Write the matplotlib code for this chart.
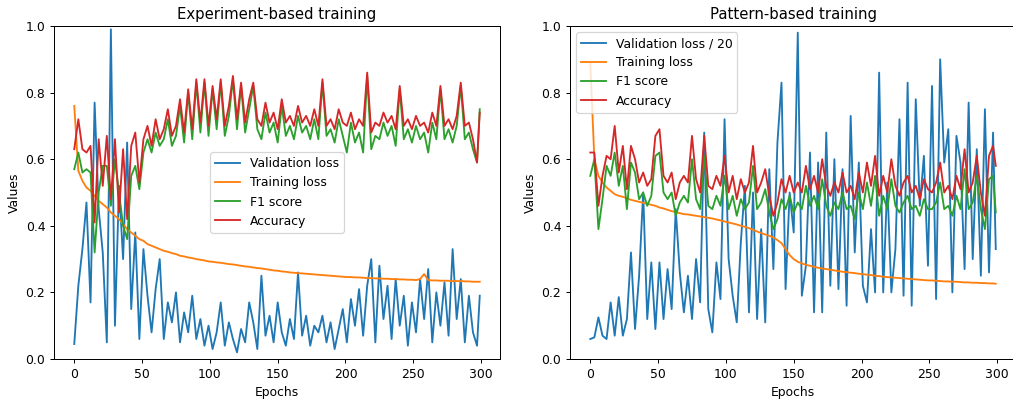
import matplotlib
matplotlib.use("Agg")
import matplotlib.pyplot as plt

# epochs sampled every 3, plus the last one
epochs = list(range(0, 298, 3)) + [299]

# ---- Experiment-based training
exp_val_loss = [0.045, 0.22, 0.33, 0.47, 0.17, 0.77, 0.45, 0.32, 0.05, 0.99,
                0.10, 0.52, 0.30, 0.65, 0.15, 0.38, 0.06, 0.33, 0.19, 0.08,
                0.21, 0.30, 0.06, 0.17, 0.11, 0.20, 0.05, 0.14, 0.08, 0.19,
                0.06, 0.12, 0.04, 0.10, 0.03, 0.08, 0.17, 0.04, 0.11, 0.06,
                0.02, 0.09, 0.05, 0.17, 0.11, 0.03, 0.25, 0.07, 0.13, 0.05,
                0.17, 0.08, 0.04, 0.12, 0.06, 0.26, 0.07, 0.13, 0.04, 0.10,
                0.08, 0.13, 0.05, 0.11, 0.03, 0.09, 0.15, 0.05, 0.18, 0.10,
                0.21, 0.07, 0.22, 0.30, 0.05, 0.28, 0.12, 0.22, 0.06, 0.24,
                0.10, 0.19, 0.04, 0.17, 0.08, 0.24, 0.12, 0.27, 0.05, 0.20,
                0.10, 0.23, 0.07, 0.33, 0.12, 0.24, 0.05, 0.19, 0.08, 0.04,
                0.19]
exp_train_loss = [0.76, 0.565, 0.535, 0.515, 0.505, 0.49, 0.475, 0.465, 0.455, 0.44,
                  0.43, 0.42, 0.405, 0.39, 0.38, 0.37, 0.36, 0.355, 0.345, 0.34,
                  0.335, 0.33, 0.325, 0.322, 0.318, 0.315, 0.31, 0.308, 0.305, 0.303,
                  0.30, 0.298, 0.296, 0.293, 0.292, 0.29, 0.289, 0.287, 0.285, 0.284,
                  0.282, 0.28, 0.278, 0.277, 0.275, 0.273, 0.272, 0.27, 0.268, 0.266,
                  0.265, 0.263, 0.262, 0.26, 0.259, 0.258, 0.257, 0.256, 0.255, 0.254,
                  0.253, 0.252, 0.251, 0.25, 0.249, 0.248, 0.247, 0.246, 0.246, 0.245,
                  0.245, 0.244, 0.243, 0.243, 0.242, 0.242, 0.241, 0.241, 0.24, 0.24,
                  0.239, 0.239, 0.238, 0.238, 0.237, 0.24, 0.255, 0.237, 0.236, 0.236,
                  0.235, 0.235, 0.235, 0.234, 0.234, 0.234, 0.233, 0.233, 0.232, 0.232,
                  0.232]
exp_f1 = [0.57, 0.62, 0.56, 0.57, 0.56, 0.32, 0.50, 0.58, 0.58, 0.46,
          0.60, 0.50, 0.40, 0.36, 0.55, 0.58, 0.51, 0.62, 0.66, 0.62,
          0.68, 0.64, 0.66, 0.72, 0.64, 0.67, 0.76, 0.65, 0.80, 0.66,
          0.83, 0.68, 0.83, 0.67, 0.81, 0.69, 0.83, 0.67, 0.73, 0.84,
          0.69, 0.82, 0.68, 0.75, 0.82, 0.69, 0.66, 0.74, 0.68, 0.71,
          0.65, 0.76, 0.67, 0.70, 0.66, 0.73, 0.68, 0.70, 0.66, 0.72,
          0.66, 0.83, 0.67, 0.69, 0.65, 0.72, 0.67, 0.62, 0.71, 0.65,
          0.68, 0.62, 0.85, 0.63, 0.67, 0.66, 0.71, 0.67, 0.70, 0.64,
          0.81, 0.66, 0.69, 0.65, 0.70, 0.66, 0.68, 0.62, 0.71, 0.66,
          0.81, 0.66, 0.69, 0.65, 0.70, 0.82, 0.66, 0.68, 0.63, 0.59,
          0.75]
exp_acc = [0.63, 0.72, 0.63, 0.62, 0.64, 0.41, 0.66, 0.52, 0.67, 0.48,
           0.66, 0.44, 0.63, 0.42, 0.64, 0.68, 0.53, 0.66, 0.70, 0.64,
           0.72, 0.66, 0.69, 0.75, 0.67, 0.70, 0.78, 0.68, 0.81, 0.69,
           0.84, 0.71, 0.84, 0.70, 0.82, 0.72, 0.84, 0.70, 0.76, 0.85,
           0.72, 0.83, 0.71, 0.78, 0.83, 0.72, 0.70, 0.77, 0.71, 0.74,
           0.69, 0.78, 0.71, 0.73, 0.70, 0.76, 0.71, 0.73, 0.70, 0.75,
           0.70, 0.84, 0.70, 0.72, 0.69, 0.75, 0.71, 0.70, 0.74, 0.69,
           0.72, 0.70, 0.86, 0.68, 0.71, 0.70, 0.74, 0.71, 0.73, 0.69,
           0.82, 0.70, 0.72, 0.69, 0.73, 0.70, 0.71, 0.68, 0.74, 0.70,
           0.82, 0.70, 0.72, 0.69, 0.73, 0.83, 0.70, 0.71, 0.66, 0.59,
           0.74]

# ---- Pattern-based training
pat_val_loss = [0.06, 0.065, 0.125, 0.07, 0.06, 0.17, 0.07, 0.186, 0.07, 0.12,
                0.32, 0.09, 0.25, 0.50, 0.12, 0.29, 0.09, 0.29, 0.12, 0.27,
                0.15, 0.45, 0.26, 0.14, 0.25, 0.12, 0.30, 0.17, 0.68, 0.15,
                0.08, 0.29, 0.18, 0.72, 0.30, 0.19, 0.11, 0.35, 0.52, 0.14,
                0.50, 0.12, 0.39, 0.11, 0.57, 0.27, 0.65, 0.83, 0.21, 0.50,
                0.38, 0.98, 0.19, 0.28, 0.62, 0.14, 0.59, 0.14, 0.68, 0.22,
                0.60, 0.21, 0.57, 0.16, 0.73, 0.32, 0.59, 0.22, 0.17, 0.39,
                0.20, 0.86, 0.20, 0.53, 0.20, 0.33, 0.72, 0.19, 0.83, 0.16,
                0.78, 0.46, 0.61, 0.28, 0.82, 0.18, 0.90, 0.59, 0.69, 0.20,
                0.67, 0.59, 0.27, 0.77, 0.30, 0.63, 0.25, 0.75, 0.26, 0.68,
                0.33]
pat_train_loss = [0.89, 0.60, 0.55, 0.53, 0.515, 0.505, 0.495, 0.49, 0.487, 0.483,
                  0.478, 0.475, 0.472, 0.469, 0.466, 0.463, 0.46, 0.455, 0.452, 0.448,
                  0.444, 0.441, 0.438, 0.435, 0.434, 0.432, 0.43, 0.428, 0.426, 0.424,
                  0.422, 0.419, 0.416, 0.413, 0.41, 0.407, 0.404, 0.40, 0.397, 0.393,
                  0.388, 0.383, 0.378, 0.374, 0.37, 0.365, 0.357, 0.348, 0.33, 0.312,
                  0.30, 0.292, 0.287, 0.283, 0.28, 0.277, 0.274, 0.272, 0.27, 0.268,
                  0.266, 0.264, 0.262, 0.261, 0.259, 0.258, 0.256, 0.255, 0.253, 0.252,
                  0.25, 0.249, 0.247, 0.246, 0.245, 0.244, 0.243, 0.242, 0.241, 0.24,
                  0.239, 0.238, 0.237, 0.236, 0.236, 0.235, 0.234, 0.233, 0.233, 0.232,
                  0.232, 0.231, 0.23, 0.23, 0.229, 0.229, 0.228, 0.228, 0.227, 0.227,
                  0.226]
pat_f1 = [0.55, 0.60, 0.39, 0.48, 0.58, 0.55, 0.62, 0.52, 0.58, 0.45,
          0.59, 0.56, 0.48, 0.50, 0.46, 0.49, 0.61, 0.62, 0.50, 0.48,
          0.50, 0.43, 0.47, 0.49, 0.47, 0.60, 0.48, 0.45, 0.61, 0.46,
          0.45, 0.49, 0.46, 0.55, 0.45, 0.49, 0.43, 0.48, 0.45, 0.47,
          0.58, 0.45, 0.47, 0.51, 0.44, 0.39, 0.42, 0.48, 0.45, 0.49,
          0.44, 0.47, 0.45, 0.52, 0.46, 0.49, 0.45, 0.54, 0.46, 0.43,
          0.47, 0.45, 0.50, 0.45, 0.46, 0.42, 0.50, 0.45, 0.53, 0.46,
          0.55, 0.43, 0.49, 0.45, 0.54, 0.46, 0.44, 0.47, 0.49, 0.45,
          0.46, 0.43, 0.48, 0.45, 0.45, 0.47, 0.53, 0.45, 0.46, 0.43,
          0.49, 0.45, 0.57, 0.45, 0.47, 0.55, 0.45, 0.39, 0.54, 0.55,
          0.44]
pat_acc = [0.62, 0.62, 0.46, 0.55, 0.61, 0.60, 0.70, 0.56, 0.64, 0.51,
           0.64, 0.60, 0.53, 0.56, 0.52, 0.54, 0.67, 0.69, 0.55, 0.53,
           0.56, 0.48, 0.53, 0.55, 0.53, 0.67, 0.54, 0.50, 0.67, 0.52,
           0.51, 0.55, 0.52, 0.61, 0.50, 0.55, 0.48, 0.54, 0.50, 0.53,
           0.64, 0.50, 0.53, 0.57, 0.49, 0.43, 0.47, 0.54, 0.50, 0.55,
           0.50, 0.53, 0.50, 0.58, 0.51, 0.55, 0.50, 0.60, 0.52, 0.49,
           0.53, 0.50, 0.56, 0.50, 0.52, 0.48, 0.56, 0.50, 0.59, 0.52,
           0.61, 0.49, 0.55, 0.50, 0.60, 0.52, 0.49, 0.53, 0.55, 0.50,
           0.52, 0.48, 0.54, 0.51, 0.50, 0.53, 0.59, 0.50, 0.52, 0.48,
           0.55, 0.51, 0.63, 0.50, 0.53, 0.61, 0.50, 0.43, 0.61, 0.64,
           0.58]

# the reference looks like a default figure shrunk a bit, so render at dpi 89
DPI = 89
fig = plt.figure(figsize=(1013 / DPI, 400 / DPI), dpi=DPI)
ax1 = fig.add_axes([0.0533, 0.1025, 0.4403, 0.8325])
ax2 = fig.add_axes([0.5627, 0.1025, 0.4403, 0.8325])

ax1.plot(epochs, exp_val_loss, label="Validation loss")
ax1.plot(epochs, exp_train_loss, label="Training loss")
ax1.plot(epochs, exp_f1, label="F1 score")
ax1.plot(epochs, exp_acc, label="Accuracy")
ax1.set_title("Experiment-based training")
ax1.set_xlabel("Epochs")
ax1.set_ylabel("Values")
ax1.set_ylim(0, 1)
ax1.legend(loc="center")

ax2.plot(epochs, pat_val_loss, label="Validation loss / 20")
ax2.plot(epochs, pat_train_loss, label="Training loss")
ax2.plot(epochs, pat_f1, label="F1 score")
ax2.plot(epochs, pat_acc, label="Accuracy")
ax2.set_title("Pattern-based training")
ax2.set_xlabel("Epochs")
ax2.set_ylabel("Values")
ax2.set_ylim(0, 1)
ax2.legend(loc="upper left")

fig.savefig("out.png", dpi=DPI)
